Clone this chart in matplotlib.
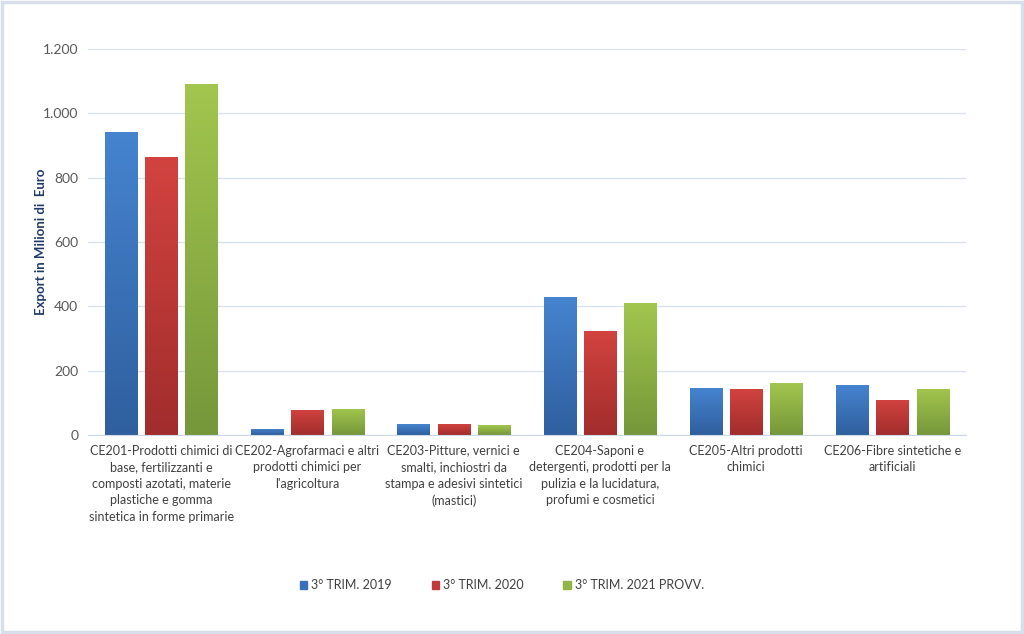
import matplotlib.pyplot as plt
import numpy as np
from matplotlib.patches import Rectangle
from matplotlib.colors import LinearSegmentedColormap

plt.rcParams['font.family'] = ['Lato', 'DejaVu Sans']

categorie = [
    'CE201-Prodotti chimici di\nbase, fertilizzanti e\ncomposti azotati, materie\nplastiche e gomma\nsintetica in forme primarie',
    "CE202-Agrofarmaci e altri\nprodotti chimici per\nl'agricoltura",
    'CE203-Pitture, vernici e\nsmalti, inchiostri da\nstampa e adesivi sintetici\n(mastici)',
    'CE204-Saponi e\ndetergenti, prodotti per la\npulizia e la lucidatura,\nprofumi e cosmetici',
    'CE205-Altri prodotti\nchimici',
    'CE206-Fibre sintetiche e\nartificiali',
]
serie = ['3° TRIM. 2019', '3° TRIM. 2020', '3° TRIM. 2021 PROVV.']
trim_2019 = [942, 19, 34, 429, 147, 154]
trim_2020 = [864, 78, 34, 323, 143, 109]
trim_2021 = [1091, 81, 31, 410, 161, 143]
valori = [trim_2019, trim_2020, trim_2021]

# colore chiaro (alto) / scuro (basso) per il gradiente
colori = [('#4684D0', '#2F5F9E'), ('#D2433F', '#A12D2C'), ('#A2C64E', '#76973A')]
colori_legenda = ['#3A70B8', '#C0393A', '#92B545']

fig = plt.figure(figsize=(10.24, 6.34), dpi=100)
ax = fig.add_axes([0.086, 0.314, 0.857, 0.609])

x = np.arange(len(categorie))
larg = 0.22
passo = 0.275
grad = np.linspace(0, 1, 256).reshape(-1, 1)

for i, vals in enumerate(valori):
    cmap = LinearSegmentedColormap.from_list('g%d' % i, [colori[i][1], colori[i][0]])
    barre = ax.bar(x + (i - 1) * passo, vals, larg, color=colori_legenda[i],
                   label=serie[i], zorder=2)
    for b in barre:
        x0, y0 = b.get_x(), b.get_y()
        w, h = b.get_width(), b.get_height()
        im = ax.imshow(grad, cmap=cmap, origin='lower', aspect='auto',
                       extent=(x0, x0 + w, y0, y0 + h), zorder=2.5)
        im.set_clip_path(b)

ax.set_xlim(-0.5, len(categorie) - 0.5)
ax.set_ylim(0, 1200)
ax.set_yticks(range(0, 1201, 200))
ax.set_yticklabels(['0', '200', '400', '600', '800', '1.000', '1.200'])
ax.set_xticks(x)
ax.set_xticklabels(categorie, fontsize=9, color='#404040', linespacing=1.45)
ax.tick_params(axis='y', labelsize=10, labelcolor='#595959', length=0, pad=7)
ax.tick_params(axis='x', length=0, pad=7)
ax.grid(axis='y', color='#D9E2EE', linewidth=1, zorder=0)
for s in ['top', 'right', 'left']:
    ax.spines[s].set_visible(False)
ax.spines['bottom'].set_color('#D0DAE6')
ax.set_ylabel('Export in Milioni di  Euro', fontsize=9.5, color='#1F3A68',
              fontweight='bold')
ax.yaxis.set_label_coords(-0.047, 0.5)

maniglie = [Rectangle((0, 0), 1, 1, color=c) for c in colori_legenda]
fig.legend(maniglie, serie, loc='center', bbox_to_anchor=(0.49, 0.077),
           ncol=3, frameon=False, fontsize=9, handlelength=0.6, handleheight=0.6,
           columnspacing=3.2, handletextpad=0.3, labelcolor='#404040')

fig.patches.append(Rectangle((0.002, 0.003), 0.996, 0.994, transform=fig.transFigure,
                             fill=False, edgecolor='#D8DEEA', linewidth=2.5))

fig.savefig('out.png', dpi=100)
